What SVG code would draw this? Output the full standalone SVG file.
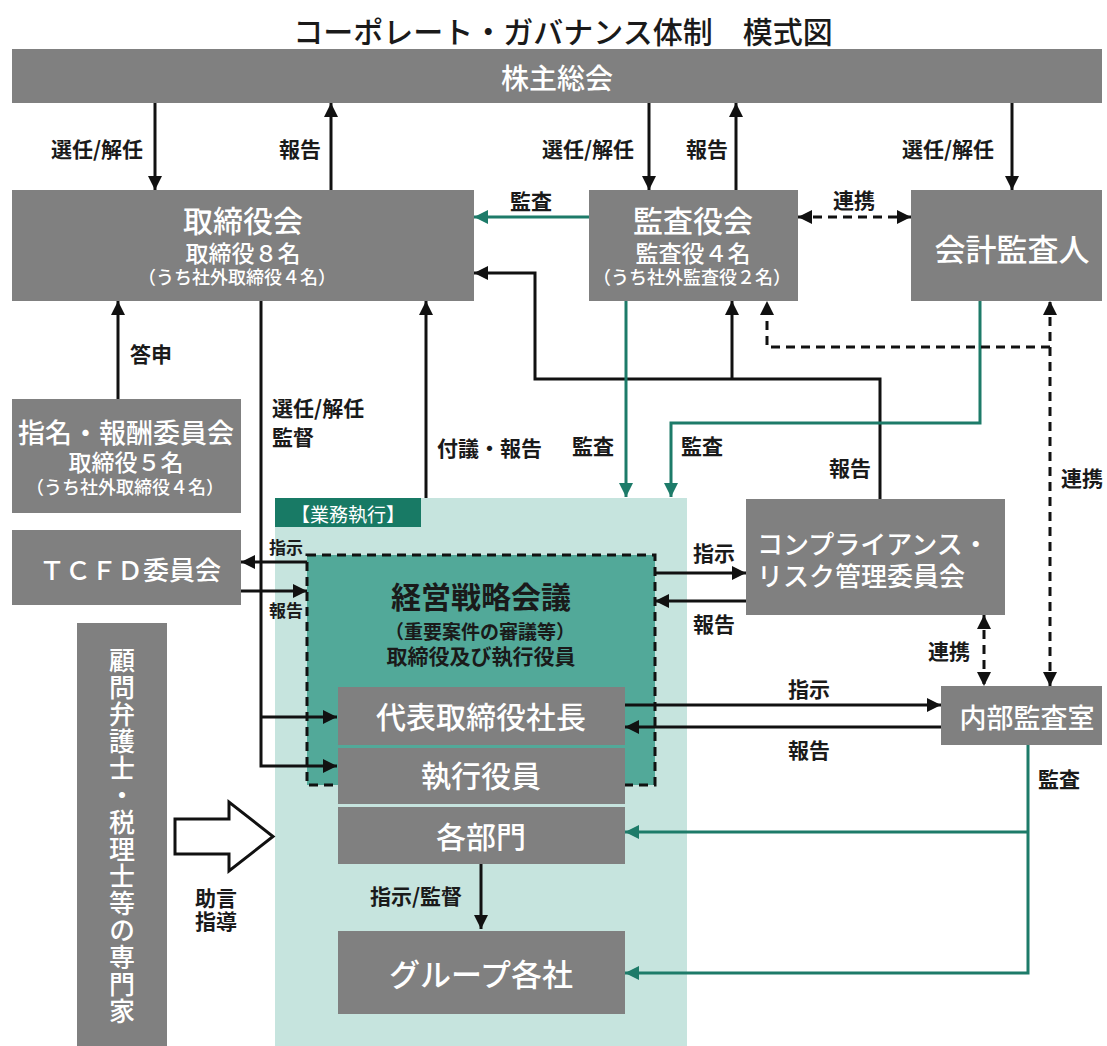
<svg xmlns="http://www.w3.org/2000/svg" width="1107" height="1046" viewBox="0 0 1107 1046">
<style>
text{font-family:"Noto Sans CJK JP","Noto Sans",sans-serif;dominant-baseline:central;text-anchor:middle}
.box{fill:#808080}
.wt{fill:#ffffff;font-weight:500}
.dk{fill:#1a1a1a;font-weight:bold}
.lbl{fill:#1a1a1a;font-weight:bold;font-size:21px}
.sm{font-size:17px}
.ln{stroke:#111111;stroke-width:3;fill:none}
.gl{stroke:#1d7b69;stroke-width:3;fill:none}
.dl{stroke:#111111;stroke-width:3;fill:none;stroke-dasharray:9 6}
</style>
<defs>
<marker id="ab" viewBox="0 0 14 14" refX="14" refY="7" markerWidth="14" markerHeight="14" markerUnits="userSpaceOnUse" orient="auto-start-reverse"><path d="M0,0 L14,7 L0,14 z" fill="#111111"/></marker>
<marker id="ag" viewBox="0 0 14 14" refX="14" refY="7" markerWidth="14" markerHeight="14" markerUnits="userSpaceOnUse" orient="auto"><path d="M0,0 L14,7 L0,14 z" fill="#1d7b69"/></marker>
</defs>
<rect width="1107" height="1046" fill="#ffffff"/>

<text id="title" x="563" y="30" font-size="30" fill="#1a1a1a" font-weight="500">コーポレート・ガバナンス体制　模式図</text>

<g id="n-shareholders">
<rect class="box" x="12" y="49" width="1090" height="54"/>
<text class="wt" x="557" y="77" font-size="28">株主総会</text>
</g>

<g id="n-board">
<rect class="box" x="12" y="190" width="462" height="111"/>
<text class="wt" x="243" y="219" font-size="30">取締役会</text>
<text class="wt" x="243" y="252" font-size="23">取締役８名</text>
<text class="wt" x="237" y="276" font-size="18">（うち社外取締役４名）</text>
</g>

<g id="n-kansayaku">
<rect class="box" x="589" y="190" width="209" height="111"/>
<text class="wt" x="693" y="219" font-size="30">監査役会</text>
<text class="wt" x="693" y="252" font-size="23">監査役４名</text>
<text class="wt" x="692" y="276" font-size="18">（うち社外監査役２名）</text>
</g>

<g id="n-auditor">
<rect class="box" x="911" y="190" width="191" height="111"/>
<text class="wt" x="1012" y="247" font-size="31">会計監査人</text>
</g>

<g id="n-nomination">
<rect class="box" x="12" y="399" width="229" height="114"/>
<text class="wt" x="126" y="431" font-size="27">指名・報酬委員会</text>
<text class="wt" x="126" y="461" font-size="23">取締役５名</text>
<text class="wt" x="125" y="486" font-size="18">（うち社外取締役４名）</text>
</g>

<g id="n-tcfd">
<rect class="box" x="12" y="530" width="229" height="75"/>
<text class="wt" x="130" y="568" font-size="26">ＴＣＦＤ委員会</text>
</g>

<g id="n-advisor">
<rect class="box" x="77" y="623" width="90" height="423"/>
<text class="wt" x="122" y="836" font-size="26" style="writing-mode:vertical-rl;letter-spacing:1px">顧問弁護士・税理士等の専門家</text>
</g>

<g id="n-exec-area">
<rect x="275" y="498" width="412" height="548" fill="#c6e4de"/>
<rect x="275" y="498" width="146" height="29" fill="#187a65"/>
<text x="348" y="513" font-size="19" fill="#ffffff">【業務執行】</text>
</g>

<g id="n-strategy">
<rect x="307" y="555" width="348" height="230" fill="#52a999" stroke="#111111" stroke-width="3" stroke-dasharray="9 6"/>
<text class="dk" x="481" y="595" font-size="30">経営戦略会議</text>
<text class="dk" x="480" y="630" font-size="19">（重要案件の審議等）</text>
<text class="dk" x="481" y="655" font-size="21">取締役及び執行役員</text>
</g>

<g id="n-president">
<rect class="box" x="338" y="687" width="287" height="58"/>
<text class="wt" x="481" y="715" font-size="30">代表取締役社長</text>
</g>
<g id="n-officers">
<rect class="box" x="338" y="748" width="287" height="56"/>
<text class="wt" x="481" y="774" font-size="30">執行役員</text>
</g>
<g id="n-departments">
<rect class="box" x="338" y="807" width="287" height="57"/>
<text class="wt" x="481" y="835" font-size="30">各部門</text>
</g>
<g id="n-group">
<rect class="box" x="338" y="931" width="287" height="83"/>
<text class="wt" x="481" y="972" font-size="31">グループ各社</text>
</g>

<g id="n-compliance">
<rect class="box" x="746" y="499" width="259" height="116"/>
<text class="wt" x="757" y="542" font-size="26" style="text-anchor:start">コンプライアンス・</text>
<text class="wt" x="757" y="574" font-size="26" style="text-anchor:start">リスク管理委員会</text>
</g>

<g id="n-internal-audit">
<rect class="box" x="941" y="686" width="161" height="59"/>
<text class="wt" x="1027" y="716" font-size="27">内部監査室</text>
</g>

<g id="connectors">
<path class="ln" d="M155,103 V190" marker-end="url(#ab)"/>
<path class="ln" d="M331,190 V103" marker-end="url(#ab)"/>
<path class="ln" d="M649,103 V190" marker-end="url(#ab)"/>
<path class="ln" d="M736,190 V103" marker-end="url(#ab)"/>
<path class="ln" d="M1012,103 V190" marker-end="url(#ab)"/>
<path class="gl" d="M589,217 H474" marker-end="url(#ag)"/>
<path class="dl" d="M798,217 H911" marker-start="url(#ab)" marker-end="url(#ab)"/>
<path class="ln" d="M118,399 V301" marker-end="url(#ab)"/>
<path class="ln" d="M261,301 V766 H337" marker-end="url(#ab)"/>
<path class="ln" d="M261,717 H337" marker-end="url(#ab)"/>
<path class="ln" d="M426,498 V301" marker-end="url(#ab)"/>
<path class="ln" d="M880,499 V379 H535 V273 H474" marker-end="url(#ab)"/>
<path class="ln" d="M732,379 V301" marker-end="url(#ab)"/>
<path class="gl" d="M626,301 V497" marker-end="url(#ag)"/>
<path class="gl" d="M980,301 V423 H671 V497" marker-end="url(#ag)"/>
<path class="dl" d="M1050,686 V301" marker-start="url(#ab)" marker-end="url(#ab)"/>
<path class="dl" d="M1050,347 H767 V301" marker-end="url(#ab)"/>
<path class="ln" d="M307,562 H241" marker-end="url(#ab)"/>
<path class="ln" d="M241,591 H307" marker-end="url(#ab)"/>
<path class="ln" d="M655,573 H746" marker-end="url(#ab)"/>
<path class="ln" d="M746,601 H655" marker-end="url(#ab)"/>
<path class="dl" d="M984,615 V686" marker-start="url(#ab)" marker-end="url(#ab)"/>
<path class="ln" d="M625,705 H941" marker-end="url(#ab)"/>
<path class="ln" d="M941,727 H625" marker-end="url(#ab)"/>
<path class="gl" d="M1028,745 V973 H625" marker-end="url(#ag)"/>
<path class="gl" d="M1028,832 H625" marker-end="url(#ag)"/>
<path class="ln" d="M481,864 V929" marker-end="url(#ab)"/>
<polygon points="175,819 229,819 229,802 273,836.5 229,871 229,854 175,854" fill="#ffffff" stroke="#111111" stroke-width="3" stroke-linejoin="miter"/>

<text class="lbl" x="97" y="148">選任/解任</text>
<text class="lbl" x="300" y="148">報告</text>
<text class="lbl" x="588" y="148">選任/解任</text>
<text class="lbl" x="707" y="148">報告</text>
<text class="lbl" x="948" y="148">選任/解任</text>
<text class="lbl" x="531" y="200">監査</text>
<text class="lbl" x="854" y="199">連携</text>
<text class="lbl" x="151" y="353">答申</text>
<text class="lbl" x="272" y="407" style="text-anchor:start">選任/解任</text>
<text class="lbl" x="272" y="436" style="text-anchor:start">監督</text>
<text class="lbl" x="437" y="447" style="text-anchor:start">付議・報告</text>
<text class="lbl" x="593" y="445">監査</text>
<text class="lbl" x="702" y="445">監査</text>
<text class="lbl" x="850" y="467">報告</text>
<text class="lbl" x="1082" y="477">連携</text>
<text class="lbl sm" x="286" y="546">指示</text>
<text class="lbl sm" x="286" y="609">報告</text>
<text class="lbl" x="714" y="552">指示</text>
<text class="lbl" x="714" y="623">報告</text>
<text class="lbl" x="949" y="650">連携</text>
<text class="lbl" x="809" y="688">指示</text>
<text class="lbl" x="809" y="749">報告</text>
<text class="lbl" x="1059" y="778">監査</text>
<text class="lbl" x="416" y="895">指示/監督</text>
<text class="lbl" x="216" y="897" font-size="19">助言</text>
<text class="lbl" x="216" y="920" font-size="19">指導</text>
</g>
</svg>
